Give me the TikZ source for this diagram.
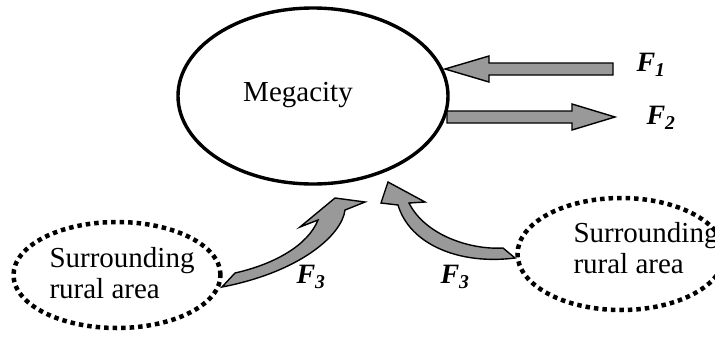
\documentclass[tikz,border=0pt]{standalone}
\usepackage{fontspec}
\setmainfont{Liberation Serif}
\usetikzlibrary{shapes.geometric}

\tikzset{
  city/.style={ellipse,draw,line width=3.4pt,minimum width=270pt,minimum height=176pt},
  rural/.style={ellipse,draw,line width=4.5pt,dash pattern=on 4.5pt off 4pt,minimum width=207pt,minimum height=106pt},
  areatext/.style={align=left,font=\fontsize{29}{31}\selectfont,inner sep=0pt},
  flow/.style={draw=black,fill=gray!80,line width=1.4pt,line join=miter},
  force/.style={font=\fontsize{28}{30}\selectfont\bfseries\itshape,inner sep=0pt}
}

\begin{document}
\begin{tikzpicture}[x=1pt,y=-1pt]
\useasboundingbox (0,0) rectangle (715,338);
\clip (0,0) rectangle (715,338);

\node[city] (megacity) at (313,96) {};
\node[font=\fontsize{29}{31}\selectfont] (citylabel) at (298,95) {Megacity};

\node[rural] (ruralL) at (117,275) {};
\node[areatext] (ruralLtext) at (122,273) {Surrounding\\rural area};
\node[rural,minimum height=112pt] (ruralR) at (621,254) {};
\node[areatext] (ruralRtext) at (646,248) {Surrounding\\rural area};

% outgoing and incoming flows
\draw[flow] (613,63) -- (489,63) -- (489,56) -- (445,69) -- (489,82) -- (489,75) -- (613,75) -- cycle;
\draw[flow] (447,111) -- (572,111) -- (572,104) -- (615,117) -- (572,130) -- (572,123) -- (447,123) -- cycle;

\draw[flow] (222,287) -- (235,273) .. controls (275,264) and (308,245) .. (318,220) -- (300,227) -- (335,198)
  -- (365,202) -- (345,210) .. controls (342,235) and (300,272) .. (222,287) -- cycle;
\draw[flow] (515,258) -- (503,248) .. controls (470,250) and (425,235) .. (409,203) -- (425,202) -- (388,182)
  -- (381,203) -- (398,205) .. controls (410,245) and (460,265) .. (515,258) -- cycle;

\node[force] (f1) at (651,65) {F\textsubscript{1}};
\node[force] (f2) at (661,118) {F\textsubscript{2}};
\node[force] (f3l) at (311,277) {F\textsubscript{3}};
\node[force] (f3r) at (455,277) {F\textsubscript{3}};
\end{tikzpicture}
\end{document}
